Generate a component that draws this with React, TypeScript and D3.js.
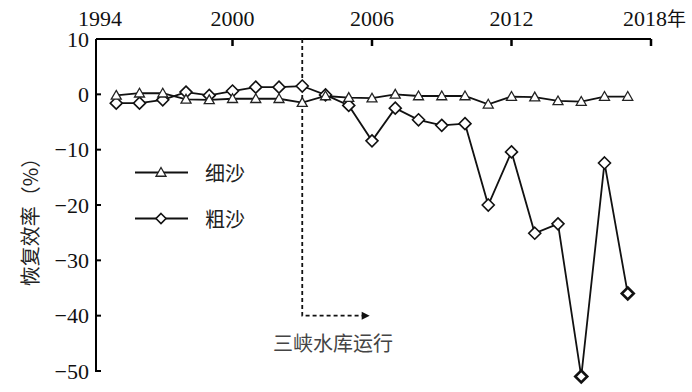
import React from "react";
import * as d3 from "d3";

const years = [1995,1996,1997,1998,1999,2000,2001,2002,2003,2004,2005,2006,2007,2008,2009,2010,2011,2012,2013,2014,2015,2016,2017];
const fineSand = [-0.2,0.2,0.2,-0.9,-1,-0.8,-0.8,-0.8,-1.5,-0.3,-0.6,-0.7,0,-0.3,-0.3,-0.3,-1.8,-0.4,-0.5,-1.2,-1.3,-0.4,-0.4];
const coarseSand = [-1.6,-1.6,-1,0.4,-0.2,0.6,1.3,1.3,1.5,-0.1,-2,-8.4,-2.5,-4.6,-5.6,-5.3,-20,-10.4,-25.1,-23.4,-51,-12.4,-36];
const xTicks = [1994, 2000, 2006, 2012, 2018];
const yTicks = [10, 0, -10, -20, -30, -40, -50];
const damYear = 2003;

const W = 692, H = 392;
const axisX = 96;
const serif = "'Liberation Serif', 'Times New Roman', serif";
const cjk = "'Noto Sans CJK SC', sans-serif";

export default function App() {
  const x = d3.scaleLinear().domain([1994, 2018]).range([93, 651]);
  const y = d3.scaleLinear().domain([-50, 10]).range([371, 39]);
  const top = y(10);
  const bottom = y(-50);
  const right = x(2018);

  const line = d3.line<number>().x((_, i) => x(years[i])).y((v) => y(v));

  const tri = (cx: number, cy: number, s = 5) =>
    `M${cx},${cy - s} L${cx + s},${cy + s * 0.75} L${cx - s},${cy + s * 0.75} Z`;
  const dia = (cx: number, cy: number, s = 6) =>
    `M${cx},${cy - s} L${cx + s},${cy} L${cx},${cy + s} L${cx - s},${cy} Z`;

  const dx = x(damYear);
  const arrowY = y(-40);
  const arrowEnd = x(2005.6);

  return (
    <svg width={W} height={H} style={{ position: "absolute", left: 0, top: 0, background: "#fff" }}>
      <rect width={W} height={H} fill="#fff" />
      <line x1={axisX} y1={top} x2={axisX} y2={bottom + 1} stroke="#000" strokeWidth={2} />
      <line x1={axisX} y1={top} x2={right} y2={top} stroke="#000" strokeWidth={2} />
      {yTicks.map((t) => (
        <g key={t}>
          {t !== 10 && <line x1={axisX} x2={axisX + 5} y1={y(t)} y2={y(t)} stroke="#000" strokeWidth={2} />}
          <text x={axisX - 7} y={y(t)} textAnchor="end" dominantBaseline="central" fontFamily={serif} fontSize={22} fill="#111">
            {t < 0 ? `\u2212${Math.abs(t)}` : `${t}`}
          </text>
        </g>
      ))}
      {xTicks.map((t) => (
        <g key={t}>
          {t !== 1994 && <line x1={x(t)} x2={x(t)} y1={top} y2={top + 7} stroke="#000" strokeWidth={2.5} />}
          {t === 2018 ? (
            <text x={x(t) - 28} y={26} textAnchor="start" fontFamily={serif} fontSize={22} fill="#111">
              2018<tspan fontFamily={cjk} fontSize={19}>年</tspan>
            </text>
          ) : (
            <text x={t === 1994 ? x(t) + 7 : x(t)} y={26} textAnchor="middle" fontFamily={serif} fontSize={22} fill="#111">
              {t}
            </text>
          )}
        </g>
      ))}

      <text transform={`translate(29,217) rotate(-90)`} textAnchor="middle" dominantBaseline="central" fontFamily={cjk} fontSize={20} fill="#222">
        恢复效率（%）
      </text>

      <path d={`M${dx},${top} L${dx},${arrowY} L${arrowEnd},${arrowY}`} fill="none" stroke="#111" strokeWidth={1.8} strokeDasharray="4,3" />
      <path d={`M${arrowEnd + 7},${arrowY} L${arrowEnd - 1},${arrowY - 4} L${arrowEnd - 1},${arrowY + 4} Z`} fill="#111" />
      <text x={273} y={351} fontFamily={cjk} fontSize={20} fill="#444">三峡水库运行</text>

      <path d={line(coarseSand) || ""} fill="none" stroke="#111" strokeWidth={1.8} />
      <path d={line(fineSand) || ""} fill="none" stroke="#111" strokeWidth={1.8} />
      {coarseSand.map((v, i) => (
        <path key={"c" + i} d={dia(x(years[i]), y(v))} fill="#fff" stroke="#111" strokeWidth={v < -30 ? 2.6 : 1.6} />
      ))}
      {fineSand.map((v, i) => (
        <path key={"f" + i} d={tri(x(years[i]), y(v))} fill="#fff" stroke="#222" strokeWidth={1.3} />
      ))}

      <line x1={135} x2={188} y1={172.5} y2={172.5} stroke="#111" strokeWidth={1.8} />
      <path d={tri(161, 172.5)} fill="#fff" stroke="#222" strokeWidth={1.3} />
      <text x={205} y={172.5} dominantBaseline="central" fontFamily={cjk} fontSize={20} fill="#222">细沙</text>
      <line x1={135} x2={188} y1={218.5} y2={218.5} stroke="#111" strokeWidth={1.8} />
      <path d={dia(161, 218.5, 5)} fill="#fff" stroke="#111" strokeWidth={1.6} />
      <text x={205} y={218.5} dominantBaseline="central" fontFamily={cjk} fontSize={20} fill="#222">粗沙</text>
    </svg>
  );
}
